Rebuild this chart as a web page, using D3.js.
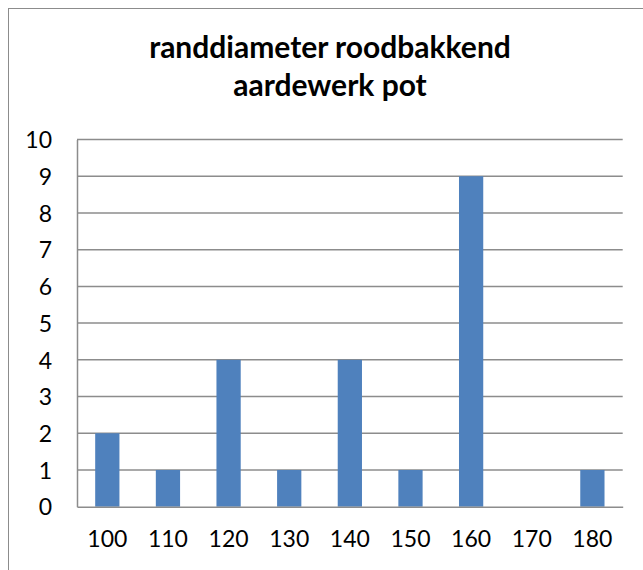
<!DOCTYPE html>
<html>
<head>
<meta charset="utf-8">
<script src="https://cdn.jsdelivr.net/npm/d3@7"></script>
<style>
  html, body { margin: 0; padding: 0; background: #fff; }
  svg { display: block; }
</style>
</head>
<body>
<svg id="chart" width="643" height="570"></svg>
<script>
const categories = ["100", "110", "120", "130", "140", "150", "160", "170", "180"];
const values = [2, 1, 4, 1, 4, 1, 9, 0, 1];
const yTicks = [0, 1, 2, 3, 4, 5, 6, 7, 8, 9, 10];
const titleLines = ["randdiameter roodbakkend", "aardewerk pot"];

const svg = d3.select("#chart");
const W = 643, H = 570;
const margin = { left: 77, top: 139.5, right: 643 - 622.7, bottom: 570 - 506.7 };

// outer chart border
svg.append("rect")
  .attr("x", 8.5).attr("y", 8.5)
  .attr("width", W + 10).attr("height", H + 10)
  .attr("fill", "#fff")
  .attr("stroke", "#8c8c8c").attr("stroke-width", 1);

const x = d3.scaleBand()
  .domain(categories)
  .range([margin.left, W - margin.right])
  .paddingInner(0.6).paddingOuter(0.3);

const xBand = d3.scaleBand()
  .domain(categories)
  .range([margin.left, W - margin.right]);

const y = d3.scaleLinear()
  .domain([0, 10])
  .range([H - margin.bottom, margin.top]);

const font = "Lato, 'Open Sans', 'Liberation Sans', sans-serif";

// gridlines
svg.append("g")
  .selectAll("line")
  .data(yTicks.filter(d => d > 0))
  .join("line")
  .attr("x1", margin.left).attr("x2", W - margin.right)
  .attr("y1", d => y(d)).attr("y2", d => y(d))
  .attr("stroke", "#8c8c8c").attr("stroke-width", 1.5);

// bars
svg.append("g")
  .selectAll("rect")
  .data(values)
  .join("rect")
  .attr("x", (d, i) => x(categories[i]))
  .attr("width", x.bandwidth())
  .attr("y", d => y(d))
  .attr("height", d => y(0) - y(d))
  .attr("fill", "#4f81bd");

// y axis
const yAxis = svg.append("g")
  .attr("transform", `translate(${margin.left},0)`)
  .call(d3.axisLeft(y).tickValues(yTicks).tickSize(0).tickPadding(25).tickFormat(d3.format("d")));
yAxis.select(".domain").attr("stroke", "#8c8c8c").attr("stroke-width", 1.5);
yAxis.selectAll("text")
  .attr("font-family", font).attr("font-size", 23).attr("fill", "#000")
  .attr("dy", "0.36em");

// x axis
const xAxis = svg.append("g")
  .attr("transform", `translate(0,${y(0)})`)
  .call(d3.axisBottom(xBand).tickSize(0).tickPadding(24));
xAxis.select(".domain").attr("stroke", "#8c8c8c").attr("stroke-width", 1.5);
xAxis.selectAll("text")
  .attr("font-family", font).attr("font-size", 23).attr("fill", "#000");

// title
svg.append("g")
  .selectAll("text")
  .data(titleLines)
  .join("text")
  .attr("x", 330)
  .attr("y", (d, i) => 58 + i * 38)
  .attr("text-anchor", "middle")
  .attr("font-family", font)
  .attr("font-weight", "bold")
  .attr("font-size", 30)
  .attr("fill", "#000")
  .text(d => d);
</script>
</body>
</html>
